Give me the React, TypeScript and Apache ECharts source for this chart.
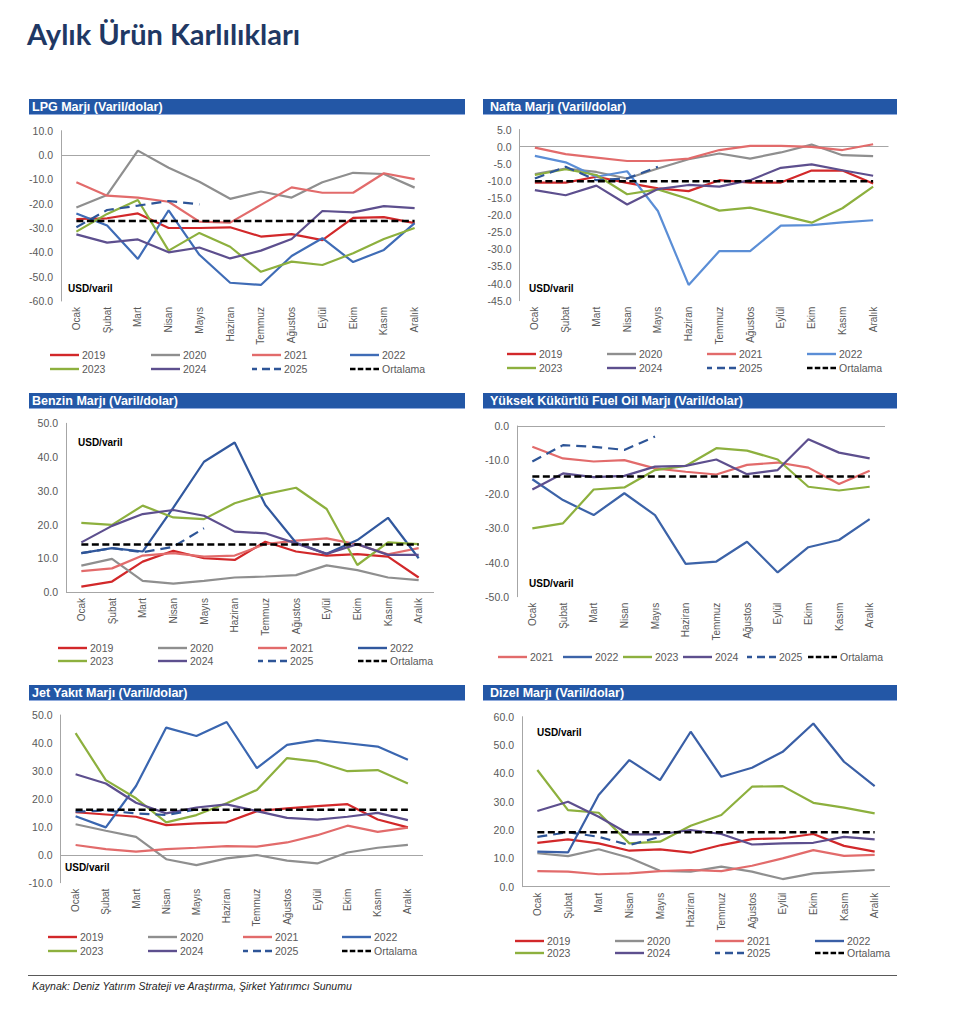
import React, { useEffect, useRef } from "react";
import * as echarts from "echarts";

const months = ["Ocak", "Şubat", "Mart", "Nisan", "Mayıs", "Haziran", "Temmuz", "Ağustos", "Eylül", "Ekim", "Kasım", "Aralık"];

// LPG
const lpg2019 = [-26.3, -26, -24, -30, -30, -29.7, -33.5, -32.5, -35, -25.8, -25.5, -28];
const lpg2020 = [-21.6, -16.4, 1.8, -5.2, -11, -18, -15, -17.5, -11.2, -7.3, -7.8, -13.4];
const lpg2021 = [-11.2, -16.7, -17.5, -19.2, -27.4, -27.8, -20.5, -13.3, -15.5, -15.5, -7.5, -9.9];
const lpg2022 = [-24, -29, -42.7, -22.7, -41, -52.5, -53.4, -41.5, -34.2, -44, -39, -28];
const lpg2023 = [-31.5, -24.2, -18.5, -39.3, -32, -37.7, -48, -43.8, -45.2, -40.4, -34.5, -30];
const lpg2024 = [-32.6, -36, -34.7, -40, -38, -42.5, -39.3, -34.5, -23, -23.6, -21, -21.8];
const lpg2025 = [-29.7, -22.6, -20.8, -18.9, -20.3];
const lpgAvg = [-27.1, -27.1, -27.1, -27.1, -27.1, -27.1, -27.1, -27.1, -27.1, -27.1, -27.1, -27.1];

// Nafta
const naf2019 = [-10.5, -10.5, -8.8, -10.6, -12.2, -13, -9.8, -10.5, -10.5, -7, -7, -10.8];
const naf2020 = [-8, -6.4, -7.4, -9.3, -6.4, -3.7, -2, -3.5, -1.7, 0.6, -2.5, -2.8];
const naf2021 = [-0.3, -2.2, -3.2, -4.2, -4.2, -3.5, -1, 0.2, 0.2, -0.1, -1, 0.7];
const naf2022 = [-2.7, -4.6, -8.8, -7.2, -18.8, -40.4, -30.5, -30.5, -23.1, -22.9, -22.1, -21.5];
const naf2023 = [-8.3, -6.6, -8.3, -13.9, -12.5, -15.3, -18.7, -17.8, -20, -22.2, -18, -11.7];
const naf2024 = [-12.7, -14.2, -11.4, -16.9, -12.4, -11.2, -11.7, -9.8, -6.2, -5.2, -6.9, -8.5];
const naf2025 = [-9.3, -5.9, -9.8, -9.3, -5.9];
const nafAvg = [-10.1, -10.1, -10.1, -10.1, -10.1, -10.1, -10.1, -10.1, -10.1, -10.1, -10.1, -10.1];

// Benzin
const ben2019 = [1.6, 3.1, 9, 12.2, 10, 9.5, 14.9, 12, 10.8, 11.2, 10.5, 4.3];
const ben2020 = [7.8, 9.8, 3.3, 2.5, 3.3, 4.3, 4.6, 5, 7.9, 6.5, 4.3, 3.5];
const ben2021 = [6.2, 7, 10.8, 11.5, 10.5, 10.8, 14.2, 15.2, 15.9, 14.1, 11.2, 13];
const ben2022 = [11.5, 13, 12, 25, 38.6, 44.3, 25.8, 14.6, 11.3, 15.4, 22, 10];
const ben2023 = [20.5, 19.9, 25.6, 22.1, 21.6, 26.3, 29, 30.9, 24.6, 8, 14.7, 14.2];
const ben2024 = [14.7, 19.6, 23.1, 24.3, 22.6, 17.9, 17.4, 14.4, 11.3, 14.2, 11, 11];
const ben2025 = [11.5, 13, 11.8, 13.4, 18.9];
const benAvg = [14.1, 14.1, 14.1, 14.1, 14.1, 14.1, 14.1, 14.1, 14.1, 14.1, 14.1, 14.1];

// Yüksek Kükürtlü Fuel Oil
const fo2021 = [-6.1, -9.5, -10.4, -10, -12.4, -13.4, -14.2, -11.4, -10.7, -12.2, -17, -13.1];
const fo2022 = [-15.6, -21.7, -26.1, -19.7, -26.1, -40.4, -39.7, -33.9, -42.9, -35.5, -33.4, -27.3];
const fo2023 = [-30, -28.5, -18.6, -18, -12.9, -11.7, -6.5, -7.2, -9.8, -17.8, -18.9, -17.8];
const fo2024 = [-18.6, -13.9, -15, -14.6, -11.9, -11.7, -9.8, -14.1, -12.9, -3.9, -7.8, -9.5];
const fo2025 = [-10.4, -5.6, -6.1, -7, -3.1];
const foAvg = [-14.8, -14.8, -14.8, -14.8, -14.8, -14.8, -14.8, -14.8, -14.8, -14.8, -14.8, -14.8];

// Jet Yakıt
const jet2019 = [15.2, 14.4, 13.6, 10.6, 11.2, 11.6, 15.6, 16.6, 17.4, 18.1, 12.6, 9.8];
const jet2020 = [10.9, 8.6, 6.4, -1.6, -3.7, -1.3, -0.1, -2.1, -3.1, 0.8, 2.5, 3.5];
const jet2021 = [3.5, 2, 1.1, 2, 2.5, 3.1, 2.9, 4.4, 7, 10.4, 8.2, 9.7];
const jet2022 = [13.8, 9.8, 24.6, 45.5, 42.5, 47.5, 31, 39.3, 41, 39.9, 38.7, 34];
const jet2023 = [43.5, 26.7, 20.2, 11.6, 14.2, 18.4, 23.2, 34.6, 33.3, 29.9, 30.3, 25.5];
const jet2024 = [28.8, 25.5, 18.6, 14.8, 16.9, 18, 15.6, 13.2, 12.6, 13.6, 15, 12.4];
const jet2025 = [15.4, 15.8, 14.8, 14.2, 16.2];
const jetAvg = [16.1, 16.1, 16.1, 16.1, 16.1, 16.1, 16.1, 16.1, 16.1, 16.1, 16.1, 16.1];

// Dizel
const diz2019 = [15.5, 16.7, 15.3, 12.7, 13.2, 12, 14.7, 16.8, 17.1, 18.6, 14.4, 12.4];
const diz2020 = [11.8, 10.8, 13.2, 10.2, 5.6, 5.3, 7.1, 5.3, 2.7, 4.7, 5.3, 5.9];
const diz2021 = [5.5, 5.3, 4.4, 4.7, 5.5, 5.9, 5.5, 7.4, 10, 12.9, 10.9, 11.2];
const diz2022 = [12.4, 12.1, 32.4, 44.7, 37.6, 54.7, 38.8, 42, 47.6, 57.6, 44.1, 35.5];
const diz2023 = [41.2, 27, 26.1, 15.3, 15.9, 21.5, 25.3, 35.3, 35.5, 29.6, 27.9, 25.9];
const diz2024 = [26.7, 30, 24.7, 18.5, 18.5, 20, 18.6, 14.9, 15.3, 15.5, 17.6, 16.7];
const diz2025 = [17.6, 19.2, 17.6, 14.7, 17.6];
const dizAvg = [19.2, 19.2, 19.2, 19.2, 19.2, 19.2, 19.2, 19.2, 19.2, 19.2, 19.2, 19.2];

const yAxisMin = [-60, -45, 0, -50, -10, 0];
const yAxisMax = [10, 5, 50, 0, 50, 60];
const yAxisStep = [10, 5, 10, 10, 10, 10];

const titles = [
  "LPG Marjı (Varil/dolar)",
  "Nafta Marjı (Varil/dolar)",
  "Benzin Marjı (Varil/dolar)",
  "Yüksek Kükürtlü Fuel Oil Marjı (Varil/dolar)",
  "Jet Yakıt Marjı (Varil/dolar)",
  "Dizel Marjı (Varil/dolar)",
];

const allYears = ["2019", "2020", "2021", "2022", "2023", "2024", "2025", "Ortalama"];
const foYears = ["2021", "2022", "2023", "2024", "2025", "Ortalama"];

const panelData: Record<string, number[]>[] = [
  { "2019": lpg2019, "2020": lpg2020, "2021": lpg2021, "2022": lpg2022, "2023": lpg2023, "2024": lpg2024, "2025": lpg2025, Ortalama: lpgAvg },
  { "2019": naf2019, "2020": naf2020, "2021": naf2021, "2022": naf2022, "2023": naf2023, "2024": naf2024, "2025": naf2025, Ortalama: nafAvg },
  { "2019": ben2019, "2020": ben2020, "2021": ben2021, "2022": ben2022, "2023": ben2023, "2024": ben2024, "2025": ben2025, Ortalama: benAvg },
  { "2021": fo2021, "2022": fo2022, "2023": fo2023, "2024": fo2024, "2025": fo2025, Ortalama: foAvg },
  { "2019": jet2019, "2020": jet2020, "2021": jet2021, "2022": jet2022, "2023": jet2023, "2024": jet2024, "2025": jet2025, Ortalama: jetAvg },
  { "2019": diz2019, "2020": diz2020, "2021": diz2021, "2022": diz2022, "2023": diz2023, "2024": diz2024, "2025": diz2025, Ortalama: dizAvg },
];
const panelYears = [allYears, allYears, allYears, foYears, allYears, allYears];

// ---------- layout / style ----------
const FONT = "'Liberation Sans', Arial, Helvetica, sans-serif";
const GRAY_TEXT = "#595959";
const AXIS_GRAY = "#A6A6A6";
const BAR_BLUE = "#2357A6";

const COLORS: Record<string, string> = {
  "2019": "#D2282A",
  "2020": "#8F8F8F",
  "2021": "#E26B6B",
  "2022": "#3D69B1",
  "2023": "#8DB03E",
  "2024": "#5D4F8E",
  "2025": "#2E5597",
  Ortalama: "#000000",
};
const panel2022Color = ["#3F6CB6", "#5B8ED6", "#31589E", "#3C63A8", "#3A66B0", "#3A5FA6"];

// legend icons (filled paths: a solid bar, or dashes)
const ICON_SOLID = "path://M0,0H29V2.4H0Z";
const ICON_2025 = "path://M0,0H5V2.4H0Z M10,0H18V2.4H10Z M22,0H29V2.4H22Z";
const ICON_AVG = "path://M0,0H5.5V2.6H0Z M7.8,0H13.3V2.6H7.8Z M15.6,0H21.1V2.6H15.6Z M23.4,0H29V2.6H23.4Z";

const grids = [
  { left: 61, top: 130.7, width: 369, height: 170.3 },
  { left: 519.5, top: 129.5, width: 369, height: 171.2 },
  { left: 66, top: 423.3, width: 368, height: 168.7 },
  { left: 517, top: 426, width: 368, height: 170.7 },
  { left: 60.5, top: 715, width: 362.5, height: 167.7 },
  { left: 522, top: 716.7, width: 368, height: 170 },
];

const bars = [
  { x: 29, y: 99, w: 436, tx: 32 },
  { x: 483, y: 99, w: 414, tx: 490 },
  { x: 29, y: 393, w: 436, tx: 32 },
  { x: 483, y: 393, w: 414, tx: 490 },
  { x: 29, y: 685, w: 436, tx: 32 },
  { x: 483, y: 685, w: 414, tx: 490 },
];

const unitPos = [
  [68, 288],
  [529, 288],
  [78, 442],
  [529, 583],
  [65, 867],
  [537, 732],
];

const legendPos: { cols: number[]; rows: number[]; perRow: number }[] = [
  { cols: [50, 151, 252, 350], rows: [356, 370], perRow: 4 },
  { cols: [507, 607, 707, 807], rows: [355, 369], perRow: 4 },
  { cols: [58, 158, 258, 358], rows: [649, 662], perRow: 4 },
  { cols: [498, 563, 623, 683, 747, 808], rows: [658], perRow: 6 },
  { cols: [48, 148, 243, 342], rows: [938, 952], perRow: 4 },
  { cols: [515, 615, 715, 815], rows: [942, 954], perRow: 4 },
];

function buildOption() {
  const grid: any[] = [];
  const xAxis: any[] = [];
  const yAxis: any[] = [];
  const series: any[] = [];
  const legend: any[] = [];
  const graphic: any[] = [];

  graphic.push({
    type: "text",
    x: 27,
    y: 33,
    style: {
      text: "Aylık Ürün Karlılıkları",
      fontFamily: "Lato, 'Open Sans', sans-serif",
      fontWeight: "bold",
      fontSize: 29,
      fill: "#1F3864",
      verticalAlign: "middle",
    },
  });

  for (let p = 0; p < 6; p++) {
    grid.push({ ...grids[p], containLabel: false });
    xAxis.push({
      type: "category",
      gridIndex: p,
      data: months,
      boundaryGap: true,
      axisLine: { show: false, onZero: false },
      axisTick: { show: false },
      axisLabel: { rotate: 90, interval: 0, fontSize: 10, color: GRAY_TEXT, fontFamily: FONT, margin: 6 },
      splitLine: { show: false },
    });
    yAxis.push({
      type: "value",
      gridIndex: p,
      min: yAxisMin[p],
      max: yAxisMax[p],
      interval: yAxisStep[p],
      axisLine: { show: true, lineStyle: { color: AXIS_GRAY, width: 1 } },
      axisTick: { show: false },
      splitLine: { show: false },
      axisLabel: {
        fontSize: 10.5,
        color: GRAY_TEXT,
        fontFamily: FONT,
        margin: 8,
        formatter: (v: number) => v.toFixed(1),
      },
    });

    const years = panelYears[p];
    years.forEach((yr, i) => {
      const sname = `p${p}|${yr}`;
      const color = yr === "2022" ? panel2022Color[p] : COLORS[yr];
      let lineStyle: any = { color, width: 2.2, type: "solid" };
      if (yr === "2025") lineStyle = { color, width: 2.2, type: [10, 6] };
      if (yr === "Ortalama") lineStyle = { color, width: 2.6, type: [7, 3.5] };
      const s: any = {
        type: "line",
        name: sname,
        xAxisIndex: p,
        yAxisIndex: p,
        data: panelData[p][yr],
        symbol: "none",
        showSymbol: false,
        lineStyle,
        itemStyle: { color },
        emphasis: { disabled: true },
        silent: true,
        z: yr === "Ortalama" ? 4 : 3,
      };
      if (i === 0) {
        s.markLine = {
          silent: true,
          symbol: ["none", "none"],
          label: { show: false },
          lineStyle: { color: AXIS_GRAY, width: 1, type: "solid" },
          emphasis: { disabled: true },
          data: [{ yAxis: 0 }],
          z: 1,
        };
      }
      series.push(s);

      const lp = legendPos[p];
      const col = i % lp.perRow;
      const row = Math.floor(i / lp.perRow);
      const icon = yr === "2025" ? ICON_2025 : yr === "Ortalama" ? ICON_AVG : ICON_SOLID;
      const ih = yr === "Ortalama" ? 2.6 : 2.4;
      legend.push({
        data: [{ name: sname, icon }],
        left: lp.cols[col],
        top: lp.rows[row] - 6.5,
        padding: 0,
        itemWidth: 29,
        itemHeight: ih,
        itemGap: 0,
        selectedMode: false,
        itemStyle: { color },
        formatter: (n: string) => n.split("|")[1],
        textStyle: { fontSize: 10.5, color: GRAY_TEXT, fontFamily: FONT, padding: [0, 0, 0, -2] },
      });
    });

    const b = bars[p];
    graphic.push({
      type: "rect",
      shape: { x: b.x, y: b.y, width: b.w, height: 15 },
      style: { fill: BAR_BLUE },
      silent: true,
    });
    graphic.push({
      type: "rect",
      shape: { x: b.x, y: b.y + 15, width: b.w, height: 1 },
      style: { fill: "#8FAADC" },
      silent: true,
    });
    graphic.push({
      type: "text",
      x: b.tx,
      y: b.y + 7.8,
      style: {
        text: titles[p],
        fontFamily: FONT,
        fontWeight: "bold",
        fontSize: 12.5,
        fill: "#FFFFFF",
        verticalAlign: "middle",
      },
      silent: true,
    });
    graphic.push({
      type: "text",
      x: unitPos[p][0],
      y: unitPos[p][1],
      style: {
        text: "USD/varil",
        fontFamily: FONT,
        fontWeight: "bold",
        fontSize: 10,
        fill: "#000000",
        verticalAlign: "middle",
      },
      silent: true,
    });
  }

  graphic.push({
    type: "line",
    shape: { x1: 28, y1: 975.5, x2: 897, y2: 975.5 },
    style: { stroke: "#595959", lineWidth: 1.2 },
    silent: true,
  });
  graphic.push({
    type: "text",
    x: 32,
    y: 986,
    style: {
      text: "Kaynak: Deniz Yatırım Strateji ve Araştırma, Şirket Yatırımcı Sunumu",
      fontFamily: FONT,
      fontStyle: "italic",
      fontSize: 10.5,
      fill: "#262626",
      verticalAlign: "middle",
    },
    silent: true,
  });

  return {
    animation: false,
    backgroundColor: "#FFFFFF",
    grid,
    xAxis,
    yAxis,
    series,
    legend,
    graphic,
  };
}

export default function App() {
  const ref = useRef<HTMLDivElement>(null);
  useEffect(() => {
    if (!ref.current) return;
    const chart = echarts.init(ref.current, undefined, { renderer: "svg" });
    chart.setOption(buildOption() as any);
    return () => chart.dispose();
  }, []);
  return (
    <div
      ref={ref}
      style={{ position: "absolute", left: 0, top: 0, width: 960, height: 1013, background: "#fff" }}
    />
  );
}
